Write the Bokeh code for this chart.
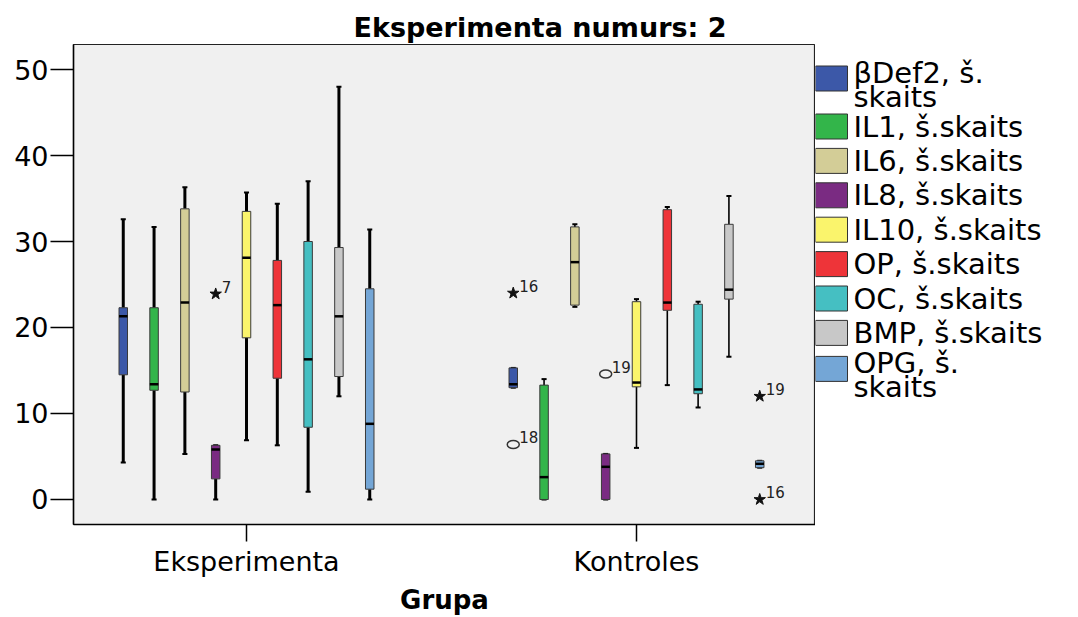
from bokeh.plotting import figure
from bokeh.layouts import row
from bokeh.models import Range1d, FixedTicker
from bokeh.core.properties import value
from bokeh.embed import file_html
from bokeh.resources import INLINE

# ---------------- data ----------------
groups = ["Eksperimenta", "Kontroles"]
variables = ["βDef2, š.\nskaits", "IL1, š.skaits", "IL6, š.skaits", "IL8, š.skaits",
             "IL10, š.skaits", "OP, š.skaits", "OC, š.skaits", "BMP, š.skaits",
             "OPG, š.\nskaits"]
colors = ["#3c58a8", "#33b54a", "#d3cd97", "#7a2b82", "#faf46c",
          "#ee3439", "#45bfc2", "#c8c8c8", "#74a6d6"]

eksp_low = [4.3, 0.0, 5.3, 0.0, 6.9, 6.3, 0.9, 12.0, 0.0]
eksp_q1 = [14.5, 12.7, 12.5, 2.4, 18.8, 14.1, 8.4, 14.3, 1.2]
eksp_med = [21.3, 13.4, 22.9, 5.8, 28.1, 22.6, 16.3, 21.3, 8.8]
eksp_q3 = [22.3, 22.3, 33.8, 6.3, 33.5, 27.8, 30.0, 29.3, 24.5]
eksp_high = [32.6, 31.7, 36.3, 6.3, 35.7, 34.4, 37.0, 48.0, 31.4]

kontr_low = [13.0, 0.0, 22.4, 0.0, 6.0, 13.3, 10.7, 16.6, 3.7]
kontr_q1 = [13.0, 0.0, 22.6, 0.0, 13.1, 22.0, 12.3, 23.3, 3.7]
kontr_med = [13.4, 2.6, 27.6, 3.8, 13.6, 22.9, 12.8, 24.4, 4.15]
kontr_q3 = [15.3, 13.3, 31.7, 5.3, 23.0, 33.7, 22.7, 32.0, 4.5]
kontr_high = [15.3, 14.0, 32.0, 5.3, 23.3, 34.0, 23.0, 35.3, 4.5]

out_group = [0, 1, 1, 1, 1, 1]
out_var = [3, 0, 0, 3, 8, 8]
out_value = [23.9, 24.0, 6.4, 14.6, 12.0, 0.0]
out_kind = ["star", "star", "circle", "circle", "star", "star"]
out_label = ["7", "16", "18", "19", "19", "16"]

y_ticks = [0, 10, 20, 30, 40, 50]

# ---------------- layout / style ----------------
FONT = "DejaVu Sans"
W_MAIN, W_LEG, H = 815, 263, 617
FR_TOP, FR_BOT = 44, 524          # frame edges in page pixels
spacing = 0.079
box_w = 0.0218
cap_hw = 0.0065
whisker_w = [3.0, 1.6]

p = figure(width=W_MAIN, height=H, output_backend="svg", toolbar_location=None,
           x_range=Range1d(0.5564, 2.459), y_range=Range1d(-2.907, 52.907),
           min_border_left=73, min_border_right=0, min_border_top=FR_TOP,
           min_border_bottom=H - FR_BOT)
p.background_fill_color = "#f0f0f0"
p.border_fill_color = "white"
p.outline_line_color = "#222222"
p.outline_line_width = 1.2
p.xgrid.visible = False
p.ygrid.visible = False

p.title.text = "Eksperimenta numurs: 2"
p.title.text_font = FONT
p.title.text_font_size = "27px"
p.title.text_font_style = "bold"
p.title.text_color = "black"
p.title.align = "left"
p.title.offset = 280
p.title.standoff = 4

p.yaxis.ticker = FixedTicker(ticks=y_ticks)
p.yaxis.major_label_text_font = FONT
p.yaxis.major_label_text_font_size = "27px"
p.yaxis.major_label_text_color = "black"
p.yaxis.major_tick_out = 23
p.yaxis.major_tick_in = 0
p.yaxis.minor_tick_line_color = None
p.yaxis.major_label_standoff = 2
p.yaxis.axis_line_color = "black"
p.yaxis.axis_line_width = 1.5
p.yaxis.major_tick_line_width = 1.5

p.xaxis.ticker = FixedTicker(ticks=[1, 2])
p.xaxis.major_label_overrides = {1: groups[0], 2: groups[1]}
p.xaxis.major_label_text_font = FONT
p.xaxis.major_label_text_font_size = "27px"
p.xaxis.major_label_text_color = "black"
p.xaxis.major_tick_out = 17
p.xaxis.major_tick_in = 0
p.xaxis.minor_tick_line_color = None
p.xaxis.major_label_standoff = 4
p.xaxis.axis_line_color = "black"
p.xaxis.axis_line_width = 1.5
p.xaxis.major_tick_line_width = 1.5
p.xaxis.axis_label = "Grupa"
p.xaxis.axis_label_text_font = FONT
p.xaxis.axis_label_text_font_size = "26px"
p.xaxis.axis_label_text_font_style = "bold"
p.xaxis.axis_label_text_color = "black"
p.xaxis.axis_label_standoff = 5

summaries = [
    (eksp_low, eksp_q1, eksp_med, eksp_q3, eksp_high),
    (kontr_low, kontr_q1, kontr_med, kontr_q3, kontr_high),
]

for g, (low, q1, med, q3, high) in enumerate(summaries):
    xs = [g + 1 + (i - 4) * spacing for i in range(len(variables))]
    # whiskers
    p.segment(x0=xs, y0=q3, x1=xs, y1=high, line_color="black", line_width=whisker_w[g])
    p.segment(x0=xs, y0=low, x1=xs, y1=q1, line_color="black", line_width=whisker_w[g])
    # caps
    x_l = [x - cap_hw for x in xs]
    x_r = [x + cap_hw for x in xs]
    p.segment(x0=x_l, y0=high, x1=x_r, y1=high, line_color="black", line_width=2)
    p.segment(x0=x_l, y0=low, x1=x_r, y1=low, line_color="black", line_width=2)
    # boxes
    p.vbar(x=xs, width=box_w, top=q3, bottom=q1, fill_color=colors,
           line_color="#3a3a3a", line_width=1)
    # medians
    m_l = [x - box_w / 2 for x in xs]
    m_r = [x + box_w / 2 for x in xs]
    p.segment(x0=m_l, y0=med, x1=m_r, y1=med, line_color="black", line_width=2.5)

# outliers
ox = [out_group[k] + 1 + (out_var[k] - 4) * spacing for k in range(len(out_value))]
sx = [ox[k] for k in range(len(ox)) if out_kind[k] == "star"]
sy = [out_value[k] for k in range(len(ox)) if out_kind[k] == "star"]
cx = [ox[k] for k in range(len(ox)) if out_kind[k] == "circle"]
cy = [out_value[k] for k in range(len(ox)) if out_kind[k] == "circle"]
p.scatter(x=sx, y=sy, marker="star", size=12, fill_color="#111111", line_color="#111111")
p.ellipse(x=cx, y=cy, width=12, height=8, width_units="screen", height_units="screen",
          fill_color=None, line_color="#333333", line_width=1.5)
p.text(x=ox, y=out_value, text=out_label, x_offset=6, y_offset=-7,
       text_font=value(FONT), text_font_size="15px", text_color="#222222",
       text_baseline="alphabetic", text_align="left")

# ---------------- legend (separate panel, frame aligned with main frame) ----------------
# ranges expressed in page pixels so the legend layout is easy to place
leg = figure(width=W_LEG, height=H, output_backend="svg", toolbar_location=None,
             x_range=Range1d(W_MAIN, W_MAIN + W_LEG), y_range=Range1d(FR_BOT, FR_TOP),
             min_border_left=0, min_border_right=0,
             min_border_top=FR_TOP, min_border_bottom=H - FR_BOT)
leg.axis.visible = False
leg.xgrid.visible = False
leg.ygrid.visible = False
leg.outline_line_color = None
leg.background_fill_color = "white"
leg.border_fill_color = "white"

sq_y, sq_c, tx_y, tx_t = [], [], [], []
y = 72.0
for i, lab in enumerate(variables):
    lines = lab.split("\n")
    for j, ln in enumerate(lines):
        tx_y.append(y + j * 24)
        tx_t.append(ln)
    sq_y.append(y + (6 if len(lines) > 1 else 0))
    sq_c.append(colors[i])
    last = y + (len(lines) - 1) * 24
    if i + 1 < len(variables):
        nxt_multi = "\n" in variables[i + 1]
        y = last + (30 if (len(lines) > 1 or nxt_multi) else 34.4)

leg.rect(x=[W_MAIN + 16] * len(sq_y), y=sq_y, width=32, height=25, fill_color=sq_c,
         line_color="#333333", line_width=1)
leg.text(x=[W_MAIN + 38] * len(tx_y), y=tx_y, text=tx_t, text_font=value(FONT),
         text_font_size="29px", text_color="black", text_baseline="middle",
         text_align="left")

layout = row(p, leg)
open("out.html", "w").write(file_html(layout, INLINE))
